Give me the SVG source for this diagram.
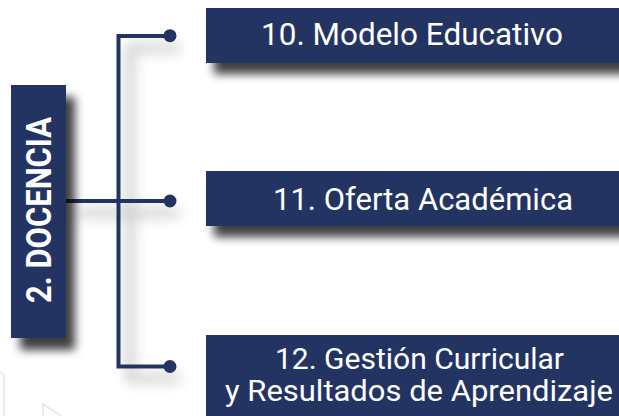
<svg xmlns="http://www.w3.org/2000/svg" width="619" height="416" viewBox="0 0 619 416">
<defs>
<filter id="sh" x="-20%" y="-40%" width="140%" height="200%">
<feGaussianBlur stdDeviation="5"/>
</filter>
<filter id="shl" x="-50%" y="-20%" width="200%" height="140%">
<feGaussianBlur stdDeviation="5"/>
</filter>
<filter id="shc" x="-50%" y="-50%" width="200%" height="200%">
<feGaussianBlur stdDeviation="7"/>
</filter>
<style>
.box{fill:#233463}
.shadow{fill:#000;opacity:0.75}
.lbl{font-family:Roboto,"Liberation Sans",sans-serif;font-size:32px;fill:#fff;text-anchor:middle}
.lbl2{font-family:Roboto,"Liberation Sans",sans-serif;font-size:30px;fill:#fff;text-anchor:middle}
.main{font-family:Roboto,"Liberation Sans",sans-serif;font-weight:bold;font-size:35px;fill:#fff;text-anchor:middle}
.con{fill:none;stroke:#233463;stroke-width:4}
.dot{fill:#233463}
.conshadow{fill:none;stroke:#000;stroke-width:8;opacity:0.22}
.deco{fill:none;stroke:#e4e4e4;stroke-width:1.5}
</style>
</defs>
<rect width="619" height="416" fill="#fff"/>
<g id="decor">
<path class="deco" d="M0 372 L4 375 L4 416"/>
<path class="deco" d="M43 416 L43 404 L61 416"/>
</g>
<g id="connectors">
<path class="conshadow" filter="url(#shc)" d="M180 48 L130 48 L130 378 L180 378 M78 213 L180 213"/>
<path class="con" d="M170 36 L118.5 36 L118.5 366.5 L170 366.5"/>
<path class="con" d="M66 201 L170 201"/>
<circle class="dot" cx="170" cy="35.7" r="6.5"/>
<circle class="dot" cx="170" cy="201" r="6.5"/>
<circle class="dot" cx="170" cy="366.5" r="6.5"/>
</g>
<g id="n2">
<rect class="shadow" filter="url(#shl)" x="20" y="97" width="55" height="253"/>
<rect class="box" x="11" y="85" width="55" height="253"/>
<text class="main" transform="translate(51 210) rotate(-90)" textLength="186" lengthAdjust="spacingAndGlyphs">2. DOCENCIA</text>
</g>
<g id="n10">
<rect class="shadow" filter="url(#sh)" x="214" y="18" width="420" height="56"/>
<rect class="box" x="206" y="8" width="413" height="55"/>
<text class="lbl" x="412" y="45" textLength="302" lengthAdjust="spacingAndGlyphs">10. Modelo Educativo</text>
</g>
<g id="n11">
<rect class="shadow" filter="url(#sh)" x="214" y="181" width="420" height="56"/>
<rect class="box" x="206" y="171" width="413" height="55"/>
<text class="lbl" x="423" y="210" textLength="300" lengthAdjust="spacingAndGlyphs">11. Oferta Académica</text>
</g>
<g id="n12">
<rect class="box" x="206" y="335" width="413" height="81"/>
<text class="lbl2" x="419.5" y="369" textLength="289" lengthAdjust="spacingAndGlyphs">12. Gestión Curricular</text>
<text class="lbl2" x="419" y="401" textLength="388" lengthAdjust="spacingAndGlyphs">y Resultados de Aprendizaje</text>
</g>
</svg>
